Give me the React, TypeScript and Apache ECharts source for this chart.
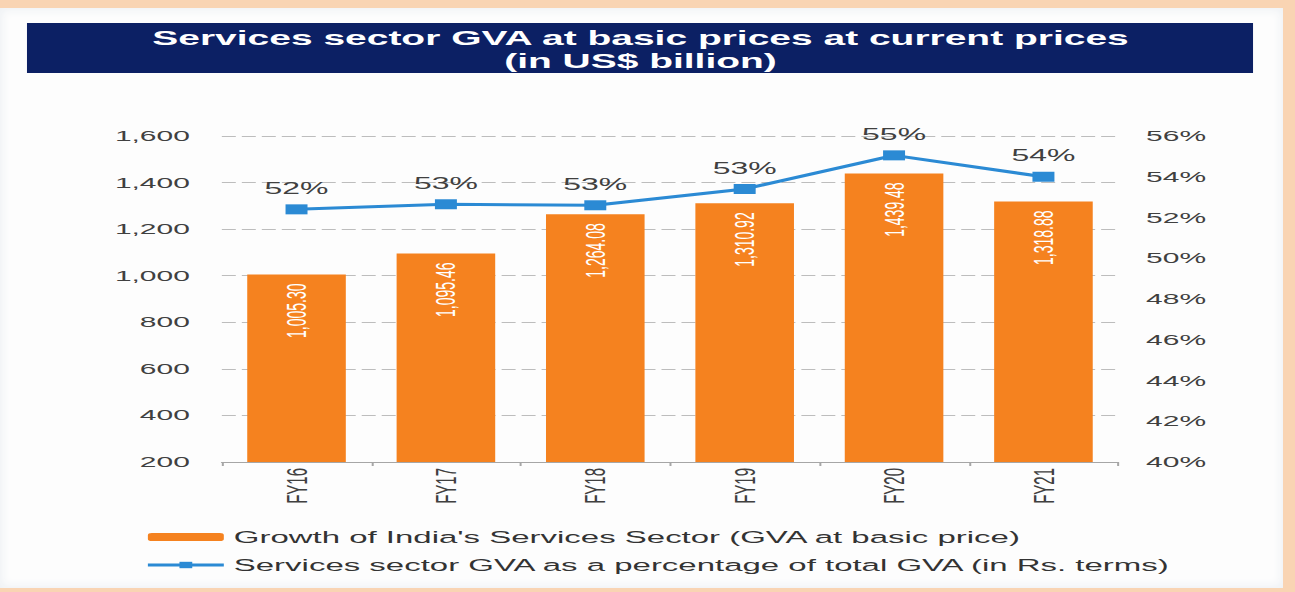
import React, { useEffect, useRef } from "react";
import * as echarts from "echarts";

const categories = ["FY16", "FY17", "FY18", "FY19", "FY20", "FY21"];
const gvaValues = [1005.3, 1095.46, 1264.08, 1310.92, 1439.48, 1318.88];
const shareValues = [52.4, 52.65, 52.6, 53.4, 55.05, 54.0];
const titleText = "Services sector GVA at basic prices at current prices\n(in US$ billion)";
const barName = "Growth of India's Services Sector (GVA at basic price)";
const lineName = "Services sector GVA as a percentage of total GVA (in Rs. terms)";

const FONT = "Liberation Sans, Arial, sans-serif";
const CHART_W = 648;
const SCALE_X = 1295 / CHART_W;

export default function App() {
  const ref = useRef<HTMLDivElement>(null);

  useEffect(() => {
    if (!ref.current) return;
    const chart = echarts.init(ref.current, null, { renderer: "svg" });
    const option = {
      animation: false,
      textStyle: { fontFamily: FONT },
      title: {
        text: titleText,
        left: 320.5,
        top: 27,
        padding: 0,
        textAlign: "center",
        textStyle: {
          color: "#ffffff",
          fontFamily: FONT,
          fontWeight: "bold",
          fontSize: 19.5,
          lineHeight: 23,
          align: "center",
        },
      },
      graphic: [
        {
          type: "rect",
          z: -1,
          shape: { x: 13.5, y: 23, width: 613.5, height: 50 },
          style: { fill: "#0c2064" },
        },
      ],
      grid: { left: 111, right: 88.5, top: 136, bottom: 130 },
      legend: {
        orient: "vertical",
        left: 72.5,
        top: 528,
        padding: 0,
        itemGap: 10,
        itemWidth: 38,
        itemHeight: 8,
        lineStyle: { width: 3 },
        textStyle: { fontFamily: FONT, fontSize: 16.5, color: "#333333", lineHeight: 18 },
        data: [barName, lineName],
      },
      xAxis: {
        type: "category",
        data: categories,
        axisLine: { lineStyle: { color: "#a6a6a6", width: 1 } },
        axisTick: { show: true, length: 4, lineStyle: { color: "#a6a6a6" } },
        axisLabel: {
          rotate: 90,
          margin: 6,
          fontSize: 15,
          color: "#404040",
          fontFamily: FONT,
        },
        splitLine: { show: false },
      },
      yAxis: [
        {
          type: "value",
          min: 200,
          max: 1600,
          interval: 200,
          axisLine: { show: false },
          axisTick: { show: false },
          axisLabel: {
            margin: 16,
            fontSize: 15,
            color: "#404040",
            fontFamily: FONT,
            formatter: (v: number) => v.toLocaleString("en-US"),
          },
          splitLine: { lineStyle: { color: "#bdbdbd", type: [7, 3], width: 1 } },
        },
        {
          type: "value",
          min: 40,
          max: 56,
          interval: 2,
          axisLine: { show: false },
          axisTick: { show: false },
          axisLabel: {
            margin: 14,
            fontSize: 15,
            color: "#404040",
            fontFamily: FONT,
            formatter: "{value}%",
          },
          splitLine: { show: false },
        },
      ],
      series: [
        {
          name: barName,
          type: "bar",
          data: gvaValues,
          barWidth: "66%",
          itemStyle: { color: "#f5821f" },
          label: {
            show: true,
            position: "insideTop",
            distance: 9,
            rotate: 90,
            align: "right",
            verticalAlign: "middle",
            color: "#ffffff",
            fontSize: 14,
            fontFamily: FONT,
            formatter: (p: any) =>
              Number(p.value).toLocaleString("en-US", {
                minimumFractionDigits: 2,
                maximumFractionDigits: 2,
              }),
          },
        },
        {
          name: lineName,
          type: "line",
          yAxisIndex: 1,
          data: shareValues,
          symbol: "rect",
          symbolSize: [11, 10],
          lineStyle: { color: "#2b8ad4", width: 3 },
          itemStyle: { color: "#2b8ad4" },
          label: {
            show: true,
            position: "top",
            distance: 8,
            fontSize: 16,
            color: "#404040",
            fontFamily: FONT,
            formatter: (p: any) => Math.round(Number(p.value)) + "%",
          },
        },
      ],
    };
    chart.setOption(option as any);
    return () => chart.dispose();
  }, []);

  return (
    <div
      style={{
        position: "fixed",
        left: 0,
        top: 0,
        width: 1295,
        height: 592,
        background: "#f9d4b3",
        overflow: "hidden",
      }}
    >
      <div
        style={{
          position: "absolute",
          left: 0,
          top: 8,
          width: 1283,
          height: 580,
          background: "#fdfdfd",
          boxShadow: "inset 0 0 10px 2px #eef1f4",
        }}
      />
      <div
        ref={ref}
        style={{
          position: "absolute",
          left: 0,
          top: 0,
          width: CHART_W,
          height: 592,
          transform: `scaleX(${SCALE_X})`,
          transformOrigin: "0 0",
        }}
      />
    </div>
  );
}
